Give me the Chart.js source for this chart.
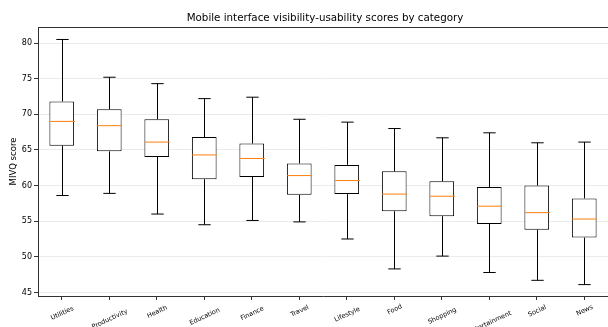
<!DOCTYPE html>
<html>
<head>
<meta charset="utf-8">
<script src="https://cdn.jsdelivr.net/npm/chart.js@4"></script>
<style>
  html, body { margin: 0; padding: 0; background: #fff; }
  #wrap { width: 608px; height: 327px; }
</style>
</head>
<body>
<div id="wrap"><canvas id="box" width="608" height="327"></canvas></div>
<script>
const categories = ["Utilities", "Productivity", "Health", "Education", "Finance", "Travel",
  "Lifestyle", "Food", "Shopping", "Entertainment", "Social", "News"];
const whiskerLow = [58.6, 58.9, 56.0, 54.5, 55.1, 54.9, 52.5, 48.3, 50.1, 47.8, 46.7, 46.1];
const q1 = [65.6, 64.8, 64.0, 60.9, 61.2, 58.7, 58.8, 56.4, 55.7, 54.6, 53.8, 52.7];
const medians = [69.0, 68.4, 66.1, 64.3, 63.8, 61.4, 60.7, 58.8, 58.5, 57.1, 56.2, 55.3];
const q3 = [71.8, 70.7, 69.3, 66.8, 65.9, 63.1, 62.9, 62.0, 60.6, 59.8, 60.0, 58.2];
const whiskerHigh = [80.5, 75.2, 74.3, 72.2, 72.4, 69.3, 68.9, 68.0, 66.7, 67.4, 66.0, 66.1];
const yTicks = [45, 50, 55, 60, 65, 70, 75, 80];

const FONT = "'DejaVu Sans', sans-serif";
const TITLE = "Mobile interface visibility-usability scores by category";
const LABEL_ANGLE = 25;

// whiskers, caps, medians, title and centred rotated labels (matplotlib style)
const boxExtras = {
  id: "boxExtras",
  afterDatasetsDraw(chart) {
    const ctx = chart.ctx;
    const y = chart.scales.y;
    const meta = chart.getDatasetMeta(0);
    ctx.save();
    meta.data.forEach((bar, i) => {
      const x = Math.round(bar.x) + 0.5;
      const half = bar.width / 2;
      const yLow = y.getPixelForValue(whiskerLow[i]);
      const yHigh = y.getPixelForValue(whiskerHigh[i]);
      const yQ1 = y.getPixelForValue(q1[i]);
      const yQ3 = y.getPixelForValue(q3[i]);
      const yMed = y.getPixelForValue(medians[i]);
      ctx.strokeStyle = "#000";
      ctx.lineWidth = 1;
      ctx.beginPath();
      ctx.moveTo(x, yQ3); ctx.lineTo(x, yHigh);
      ctx.moveTo(x, yQ1); ctx.lineTo(x, yLow);
      ctx.moveTo(x - half / 2, yHigh); ctx.lineTo(x + half / 2, yHigh);
      ctx.moveTo(x - half / 2, yLow); ctx.lineTo(x + half / 2, yLow);
      ctx.stroke();
      ctx.strokeStyle = "#ff7f0e";
      ctx.beginPath();
      ctx.moveTo(x - half, yMed); ctx.lineTo(x + half, yMed);
      ctx.stroke();
    });
    ctx.restore();
  },
  afterDraw(chart) {
    const ctx = chart.ctx;
    const a = chart.chartArea;
    const xs = chart.scales.x;
    ctx.save();
    // top spine
    ctx.strokeStyle = "#333";
    ctx.lineWidth = 1;
    ctx.beginPath();
    ctx.moveTo(a.left, a.top + 0.5);
    ctx.lineTo(a.right, a.top + 0.5);
    ctx.stroke();

    // title
    ctx.fillStyle = "#000";
    ctx.font = "10.3px " + FONT;
    ctx.textAlign = "center";
    ctx.textBaseline = "middle";
    ctx.fillText(TITLE, (a.left + a.right) / 2 + 2, 18.5);

    // x labels, rotated about their centre
    const fs = 6.5;
    const th = LABEL_ANGLE * Math.PI / 180;
    ctx.font = fs + "px " + FONT;
    categories.forEach((lab, i) => {
      const x = xs.getPixelForTick(i) + 0.5;
      const L = ctx.measureText(lab).width;
      ctx.save();
      ctx.translate(x, a.bottom + 7 + L * Math.sin(th));
      ctx.rotate(-th);
      ctx.fillText(lab, 0, 0);
      ctx.restore();
    });
    ctx.restore();
  }
};

new Chart(document.getElementById("box"), {
  type: "bar",
  data: {
    labels: categories,
    datasets: [{
      data: categories.map((c, i) => [q1[i], q3[i]]),
      backgroundColor: "#ffffff",
      borderColor: "#000000",
      borderWidth: 1,
      borderSkipped: false,
      categoryPercentage: 1,
      barPercentage: 0.52
    }]
  },
  options: {
    responsive: false,
    animation: false,
    devicePixelRatio: 1,
    layout: { padding: { left: 0, right: 0, top: 27, bottom: 0 } },
    plugins: {
      legend: { display: false },
      tooltip: { enabled: false },
      title: { display: false }
    },
    scales: {
      x: {
        offset: true,
        grid: { display: true, drawOnChartArea: false, offset: false, tickLength: 4, tickColor: "#333" },
        border: { color: "#333", width: 1 },
        ticks: { display: false, autoSkip: false },
        afterFit(scale) { scale.height = 31; }
      },
      y: {
        min: 44.5,
        max: 82.25,
        afterBuildTicks(scale) { scale.ticks = yTicks.map(v => ({ value: v })); },
        grid: { color: "#ebebeb", tickColor: "#333", tickLength: 4, lineWidth: 1 },
        border: { color: "#333", width: 1 },
        ticks: { color: "#000", font: { family: FONT, size: 8 }, padding: 2 },
        title: {
          display: true,
          text: "MIVQ score",
          color: "#000",
          font: { family: FONT, size: 8.5 },
          padding: { top: 9, bottom: 0 }
        },
        afterFit(scale) { scale.width = 38; }
      }
    }
  },
  plugins: [boxExtras]
});
</script>
</body>
</html>
